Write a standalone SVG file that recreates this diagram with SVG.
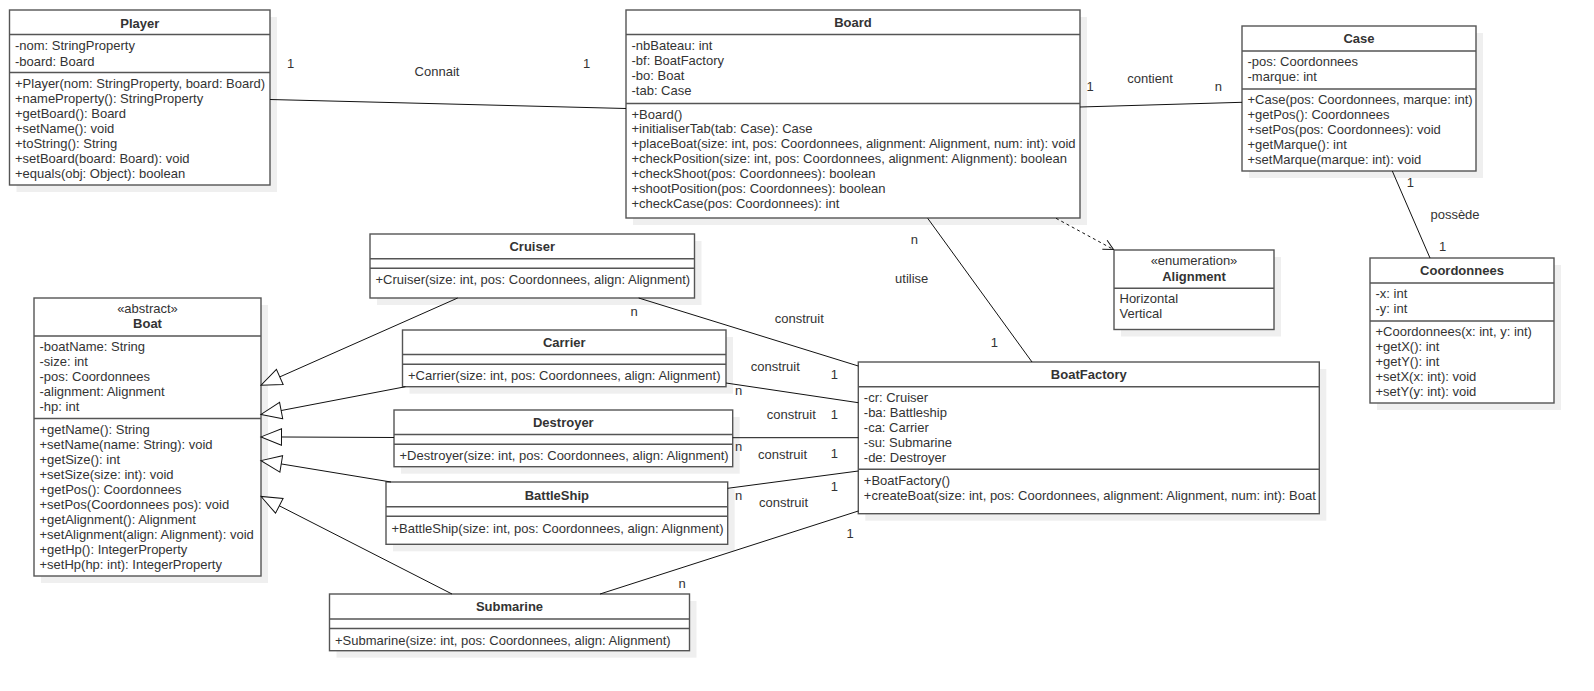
<svg xmlns="http://www.w3.org/2000/svg" width="1594" height="691" viewBox="0 0 1594 691">
<style>
.sh{fill:#efefef}
.box{fill:#fff;stroke:#555;stroke-width:1.4}
.sep{stroke:#555;stroke-width:1.4}
text{font-family:"Liberation Sans",Arial,Helvetica,sans-serif;font-size:13px;fill:#333}
.t{font-weight:bold;text-anchor:middle}
.c{text-anchor:middle}
.ln{stroke:#111;stroke-width:1;fill:none}
.dash{stroke-dasharray:3,3}
.gen{marker-end:url(#tri)}
</style>
<defs>
<marker id="tri" markerUnits="userSpaceOnUse" viewBox="-1 -10 23 20" refX="20" refY="0" markerWidth="23" markerHeight="20" orient="auto">
<path d="M0,-8.3 L20.5,0 L0,8.3 Z" fill="#fff" stroke="#111" stroke-width="1"/>
</marker>
<marker id="open" markerUnits="userSpaceOnUse" viewBox="-1 -7 13 14" refX="10" refY="0" markerWidth="13" markerHeight="14" orient="auto">
<path d="M0,-5 L10,0 L0,5" fill="none" stroke="#111" stroke-width="1"/>
</marker>
</defs>

<g id="Player">
<rect class="sh" x="16.5" y="17" width="260.5" height="175"/>
<rect class="box" x="9.5" y="10" width="260.5" height="175"/>
<line class="sep" x1="9.5" y1="34.5" x2="270" y2="34.5"/>
<line class="sep" x1="9.5" y1="72.5" x2="270" y2="72.5"/>
<text class="t" x="139.75" y="27.8">Player</text>
<text x="15" y="50">-nom: StringProperty</text>
<text x="15" y="65.5">-board: Board</text>
<text x="15" y="88">+Player(nom: StringProperty, board: Board)</text>
<text x="15" y="103">+nameProperty(): StringProperty</text>
<text x="15" y="118">+getBoard(): Board</text>
<text x="15" y="133">+setName(): void</text>
<text x="15" y="148">+toString(): String</text>
<text x="15" y="163">+setBoard(board: Board): void</text>
<text x="15" y="178">+equals(obj: Object): boolean</text>
</g>

<g id="Board">
<rect class="sh" x="633" y="17" width="454" height="208"/>
<rect class="box" x="626" y="10" width="454" height="208"/>
<line class="sep" x1="626" y1="34.5" x2="1080" y2="34.5"/>
<line class="sep" x1="626" y1="103.5" x2="1080" y2="103.5"/>
<text class="t" x="853" y="27.2">Board</text>
<text x="631.5" y="50.2">-nbBateau: int</text>
<text x="631.5" y="65.2">-bf: BoatFactory</text>
<text x="631.5" y="80.2">-bo: Boat</text>
<text x="631.5" y="95.2">-tab: Case</text>
<text x="631.5" y="118.5">+Board()</text>
<text x="631.5" y="133.4">+initialiserTab(tab: Case): Case</text>
<text x="631.5" y="148.3">+placeBoat(size: int, pos: Coordonnees, alignment: Alignment, num: int): void</text>
<text x="631.5" y="163.2">+checkPosition(size: int, pos: Coordonnees, alignment: Alignment): boolean</text>
<text x="631.5" y="178.1">+checkShoot(pos: Coordonnees): boolean</text>
<text x="631.5" y="193">+shootPosition(pos: Coordonnees): boolean</text>
<text x="631.5" y="207.9">+checkCase(pos: Coordonnees): int</text>
</g>

<g id="Case">
<rect class="sh" x="1249" y="33" width="234" height="145"/>
<rect class="box" x="1242" y="26" width="234" height="145"/>
<line class="sep" x1="1242" y1="51" x2="1476" y2="51"/>
<line class="sep" x1="1242" y1="89" x2="1476" y2="89"/>
<text class="t" x="1359" y="43">Case</text>
<text x="1247.5" y="66.2">-pos: Coordonnees</text>
<text x="1247.5" y="81.2">-marque: int</text>
<text x="1247.5" y="103.8">+Case(pos: Coordonnees, marque: int)</text>
<text x="1247.5" y="118.8">+getPos(): Coordonnees</text>
<text x="1247.5" y="133.8">+setPos(pos: Coordonnees): void</text>
<text x="1247.5" y="148.8">+getMarque(): int</text>
<text x="1247.5" y="163.8">+setMarque(marque: int): void</text>
</g>

<g id="Coordonnees">
<rect class="sh" x="1377" y="265" width="184" height="145"/>
<rect class="box" x="1370" y="258" width="184" height="145"/>
<line class="sep" x1="1370" y1="283" x2="1554" y2="283"/>
<line class="sep" x1="1370" y1="321" x2="1554" y2="321"/>
<text class="t" x="1462" y="274.5">Coordonnees</text>
<text x="1375.5" y="298">-x: int</text>
<text x="1375.5" y="313">-y: int</text>
<text x="1375.5" y="336">+Coordonnees(x: int, y: int)</text>
<text x="1375.5" y="351">+getX(): int</text>
<text x="1375.5" y="366">+getY(): int</text>
<text x="1375.5" y="381">+setX(x: int): void</text>
<text x="1375.5" y="396">+setY(y: int): void</text>
</g>

<g id="Alignment">
<rect class="sh" x="1121" y="257" width="160" height="79.5"/>
<rect class="box" x="1114" y="250" width="160" height="79.5"/>
<line class="sep" x1="1114" y1="288.3" x2="1274" y2="288.3"/>
<text class="c" x="1194" y="265">«enumeration»</text>
<text class="t" x="1194" y="280.5">Alignment</text>
<text x="1119.5" y="303">Horizontal</text>
<text x="1119.5" y="318">Vertical</text>
</g>

<g id="Boat">
<rect class="sh" x="41" y="305" width="227" height="278"/>
<rect class="box" x="34" y="298" width="227" height="278"/>
<line class="sep" x1="34" y1="336" x2="261" y2="336"/>
<line class="sep" x1="34" y1="418.5" x2="261" y2="418.5"/>
<text class="c" x="147.5" y="313">«abstract»</text>
<text class="t" x="147.5" y="328">Boat</text>
<text x="39.5" y="351.2">-boatName: String</text>
<text x="39.5" y="366.2">-size: int</text>
<text x="39.5" y="381.2">-pos: Coordonnees</text>
<text x="39.5" y="396.2">-alignment: Alignment</text>
<text x="39.5" y="411.2">-hp: int</text>
<text x="39.5" y="433.8">+getName(): String</text>
<text x="39.5" y="448.8">+setName(name: String): void</text>
<text x="39.5" y="463.8">+getSize(): int</text>
<text x="39.5" y="478.8">+setSize(size: int): void</text>
<text x="39.5" y="493.8">+getPos(): Coordonnees</text>
<text x="39.5" y="508.8">+setPos(Coordonnees pos): void</text>
<text x="39.5" y="523.8">+getAlignment(): Alignment</text>
<text x="39.5" y="538.8">+setAlignment(align: Alignment): void</text>
<text x="39.5" y="553.8">+getHp(): IntegerProperty</text>
<text x="39.5" y="568.8">+setHp(hp: int): IntegerProperty</text>
</g>

<g id="Cruiser">
<rect class="sh" x="377" y="241" width="324.5" height="64"/>
<rect class="box" x="370" y="234" width="324.5" height="64"/>
<line class="sep" x1="370" y1="258.7" x2="694.5" y2="258.7"/>
<line class="sep" x1="370" y1="268.3" x2="694.5" y2="268.3"/>
<text class="t" x="532.25" y="250.8">Cruiser</text>
<text x="375.5" y="283.8">+Cruiser(size: int, pos: Coordonnees, align: Alignment)</text>
</g>

<g id="Carrier">
<rect class="sh" x="409.5" y="337" width="323.5" height="56.7"/>
<rect class="box" x="402.5" y="330" width="323.5" height="56.7"/>
<line class="sep" x1="402.5" y1="354.5" x2="726" y2="354.5"/>
<line class="sep" x1="402.5" y1="364.3" x2="726" y2="364.3"/>
<text class="t" x="564.25" y="346.8">Carrier</text>
<text x="408" y="380.2">+Carrier(size: int, pos: Coordonnees, align: Alignment)</text>
</g>

<g id="Destroyer">
<rect class="sh" x="401" y="417" width="338.7" height="56.7"/>
<rect class="box" x="394" y="410" width="338.7" height="56.7"/>
<line class="sep" x1="394" y1="434.5" x2="732.7" y2="434.5"/>
<line class="sep" x1="394" y1="444.3" x2="732.7" y2="444.3"/>
<text class="t" x="563.35" y="426.8">Destroyer</text>
<text x="399.5" y="459.5">+Destroyer(size: int, pos: Coordonnees, align: Alignment)</text>
</g>

<g id="BattleShip">
<rect class="sh" x="393" y="489" width="341.7" height="62.3"/>
<rect class="box" x="386" y="482" width="341.7" height="62.3"/>
<line class="sep" x1="386" y1="506.7" x2="727.7" y2="506.7"/>
<line class="sep" x1="386" y1="516.3" x2="727.7" y2="516.3"/>
<text class="t" x="556.85" y="500">BattleShip</text>
<text x="391.5" y="532.5">+BattleShip(size: int, pos: Coordonnees, align: Alignment)</text>
</g>

<g id="Submarine">
<rect class="sh" x="336.5" y="601" width="360" height="56.7"/>
<rect class="box" x="329.5" y="594" width="360" height="56.7"/>
<line class="sep" x1="329.5" y1="619" x2="689.5" y2="619"/>
<line class="sep" x1="329.5" y1="628.5" x2="689.5" y2="628.5"/>
<text class="t" x="509.5" y="611.2">Submarine</text>
<text x="335" y="644.5">+Submarine(size: int, pos: Coordonnees, align: Alignment)</text>
</g>

<g id="BoatFactory">
<rect class="sh" x="865.3" y="369" width="461" height="151.7"/>
<rect class="box" x="858.3" y="362" width="461" height="151.7"/>
<line class="sep" x1="858.3" y1="386.7" x2="1319.3" y2="386.7"/>
<line class="sep" x1="858.3" y1="469.3" x2="1319.3" y2="469.3"/>
<text class="t" x="1088.8" y="378.8">BoatFactory</text>
<text x="863.8" y="402">-cr: Cruiser</text>
<text x="863.8" y="417">-ba: Battleship</text>
<text x="863.8" y="432">-ca: Carrier</text>
<text x="863.8" y="447">-su: Submarine</text>
<text x="863.8" y="462">-de: Destroyer</text>
<text x="863.8" y="484.5">+BoatFactory()</text>
<text x="863.8" y="499.5">+createBoat(size: int, pos: Coordonnees, alignment: Alignment, num: int): Boat</text>
</g>

<g id="connectors">
<line class="ln" x1="270" y1="99.5" x2="626" y2="108.5"/>
<line class="ln" x1="1080" y1="107" x2="1242" y2="102.3"/>
<line class="ln" x1="1392.3" y1="171" x2="1430" y2="258"/>
<line class="ln dash" x1="1056" y1="218.3" x2="1113.5" y2="249.5" marker-end="url(#open)"/>
<line class="ln" x1="927.7" y1="218.3" x2="1032" y2="362"/>
<line class="ln" x1="638.7" y1="298" x2="858.3" y2="366"/>
<line class="ln" x1="726" y1="383" x2="858.3" y2="402.7"/>
<line class="ln" x1="732.7" y1="437.7" x2="858.3" y2="437.7"/>
<line class="ln" x1="727.7" y1="488.3" x2="858.3" y2="471"/>
<line class="ln" x1="600" y1="594" x2="858.3" y2="511"/>
<line class="ln gen" x1="457.7" y1="298" x2="261.5" y2="385"/>
<line class="ln gen" x1="405.5" y1="386.7" x2="261.5" y2="414.3"/>
<line class="ln gen" x1="394" y1="437.5" x2="261.5" y2="436.9"/>
<line class="ln gen" x1="391" y1="482" x2="261.5" y2="460.7"/>
<line class="ln gen" x1="452" y1="594" x2="261.5" y2="496.7"/>
<text class="c" x="290.7" y="67.8">1</text>
<text class="c" x="437" y="75.7">Connait</text>
<text class="c" x="586.6" y="67.5">1</text>
<text class="c" x="1090" y="91.2">1</text>
<text class="c" x="1150" y="82.8">contient</text>
<text class="c" x="1218.3" y="91.2">n</text>
<text class="c" x="1410.3" y="187.2">1</text>
<text class="c" x="1455" y="218.8">possède</text>
<text class="c" x="1442.7" y="251.2">1</text>
<text class="c" x="914.3" y="243.5">n</text>
<text class="c" x="911.7" y="282.8">utilise</text>
<text class="c" x="994.3" y="346.8">1</text>
<text class="c" x="634" y="315.5">n</text>
<text class="c" x="799.3" y="323.2">construit</text>
<text class="c" x="834.4" y="378.5">1</text>
<text class="c" x="775.3" y="371.2">construit</text>
<text class="c" x="738.6" y="395.2">n</text>
<text class="c" x="834.4" y="418.5">1</text>
<text class="c" x="791.3" y="418.8">construit</text>
<text class="c" x="738.6" y="451">n</text>
<text class="c" x="834.4" y="457.8">1</text>
<text class="c" x="782.5" y="458.8">construit</text>
<text class="c" x="738.6" y="499.5">n</text>
<text class="c" x="834.4" y="490.5">1</text>
<text class="c" x="783.5" y="506.8">construit</text>
<text class="c" x="850" y="538.2">1</text>
<text class="c" x="682" y="588">n</text>
</g>
</svg>
